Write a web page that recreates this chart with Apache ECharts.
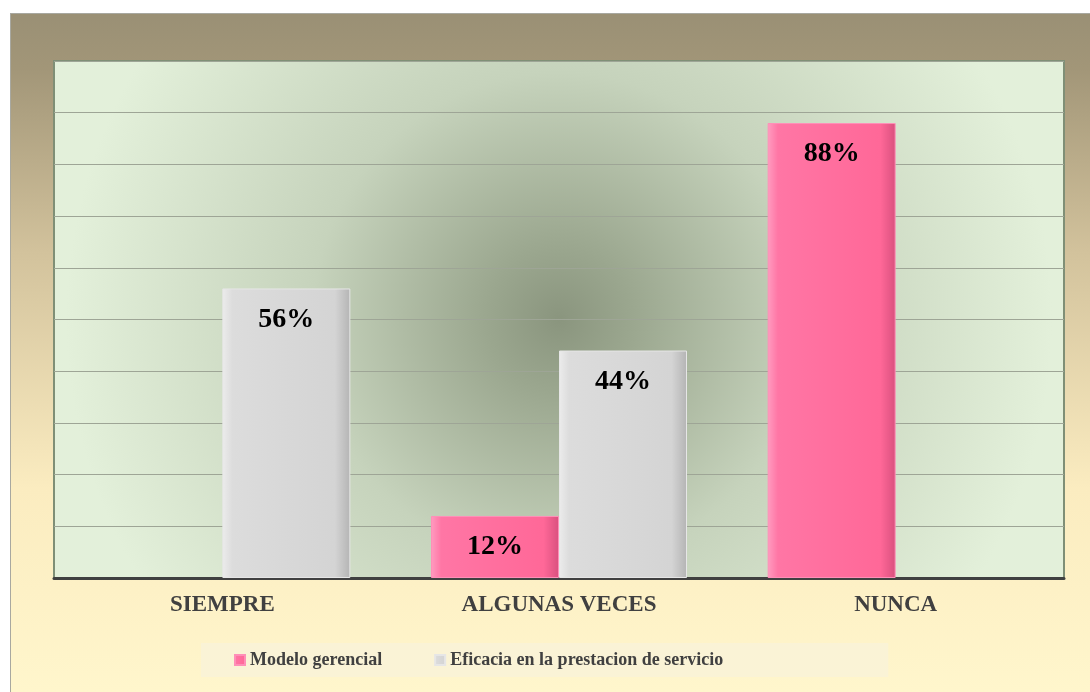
<!DOCTYPE html>
<html>
<head>
<meta charset="utf-8">
<script src="https://cdn.jsdelivr.net/npm/echarts@6/dist/echarts.min.js"></script>
<style>
  body { margin: 0; background: #ffffff; }
  #main { position: absolute; left: 10px; top: 13px; width: 1079px; height: 678px; border: 1px solid #a8a8a0; }
</style>
</head>
<body>
<div id="main"></div>
<script>
var categories = ["SIEMPRE", "ALGUNAS VECES", "NUNCA"];
var seriesNames = ["Modelo gerencial", "Eficacia en la prestacion de servicio"];
var modeloValues = [null, 12, 88];
var eficaciaValues = [56, 44, null];

var serif = "Liberation Serif";

// gradiente horizontal para dar algo de relieve a las barras
function barColor(a, b, c, d) {
  return {
    type: "linear", x: 0, y: 0, x2: 1, y2: 0,
    colorStops: [
      { offset: 0, color: a },
      { offset: 0.08, color: b },
      { offset: 0.88, color: c },
      { offset: 1, color: d }
    ]
  };
}

var myChart = echarts.init(document.getElementById("main"));

myChart.setOption({
  backgroundColor: {
    type: "linear", x: 0, y: 0, x2: 0, y2: 1,
    colorStops: [
      { offset: 0, color: "#9a9075" },
      { offset: 0.08, color: "#a29678" },
      { offset: 0.35, color: "#d2c29c" },
      { offset: 0.7, color: "#fbecc0" },
      { offset: 1, color: "#fff6cc" }
    ]
  },
  grid: {
    left: 43,
    right: 26,
    top: 47,
    bottom: 114,
    show: true,
    borderColor: "#7f8f76",
    borderWidth: 2,
    backgroundColor: {
      type: "radial", x: 0.5, y: 0.5, r: 0.95,
      colorStops: [
        { offset: 0, color: "#8a957e" },
        { offset: 0.15, color: "#9ba78f" },
        { offset: 0.5, color: "#c6d3bc" },
        { offset: 1, color: "#e3f0da" }
      ]
    }
  },
  legend: {
    bottom: 15,
    left: 190,
    padding: [8, 165, 8, 33],
    itemGap: 52,
    itemWidth: 10,
    itemHeight: 10,
    icon: "rect",
    backgroundColor: "#faf3d6",
    textStyle: { fontFamily: serif, fontWeight: "bold", fontSize: 18, color: "#404040" },
    data: seriesNames
  },
  xAxis: {
    type: "category",
    data: categories,
    axisLine: { lineStyle: { color: "#404040", width: 3 } },
    axisTick: { show: false },
    axisLabel: { fontFamily: serif, fontWeight: "bold", fontSize: 23, color: "#404040", margin: 16 }
  },
  yAxis: {
    type: "value",
    min: 0,
    max: 100,
    interval: 10,
    axisLabel: { show: false },
    axisLine: { show: false },
    axisTick: { show: false },
    splitLine: { lineStyle: { color: "#9ea596", width: 1 } }
  },
  series: [
    {
      name: seriesNames[0],
      type: "bar",
      data: modeloValues,
      barWidth: 128,
      barGap: "0%",
      itemStyle: {
        color: barColor("#ff9cc0", "#ff76a5", "#ff6898", "#d9507e"),
        borderColor: "#ff8fb8",
        borderWidth: 1
      },
      label: {
        show: true,
        position: "insideTop",
        distance: 17,
        formatter: "{c}%",
        fontFamily: serif,
        fontWeight: "bold",
        fontSize: 28,
        color: "#000000"
      }
    },
    {
      name: seriesNames[1],
      type: "bar",
      data: eficaciaValues,
      barWidth: 128,
      itemStyle: {
        color: barColor("#ececec", "#dcdcdc", "#d4d4d4", "#b4b4b4"),
        borderColor: "#e6e6e6",
        borderWidth: 1
      },
      label: {
        show: true,
        position: "insideTop",
        distance: 17,
        formatter: "{c}%",
        fontFamily: serif,
        fontWeight: "bold",
        fontSize: 28,
        color: "#000000"
      }
    }
  ]
});
</script>
</body>
</html>
